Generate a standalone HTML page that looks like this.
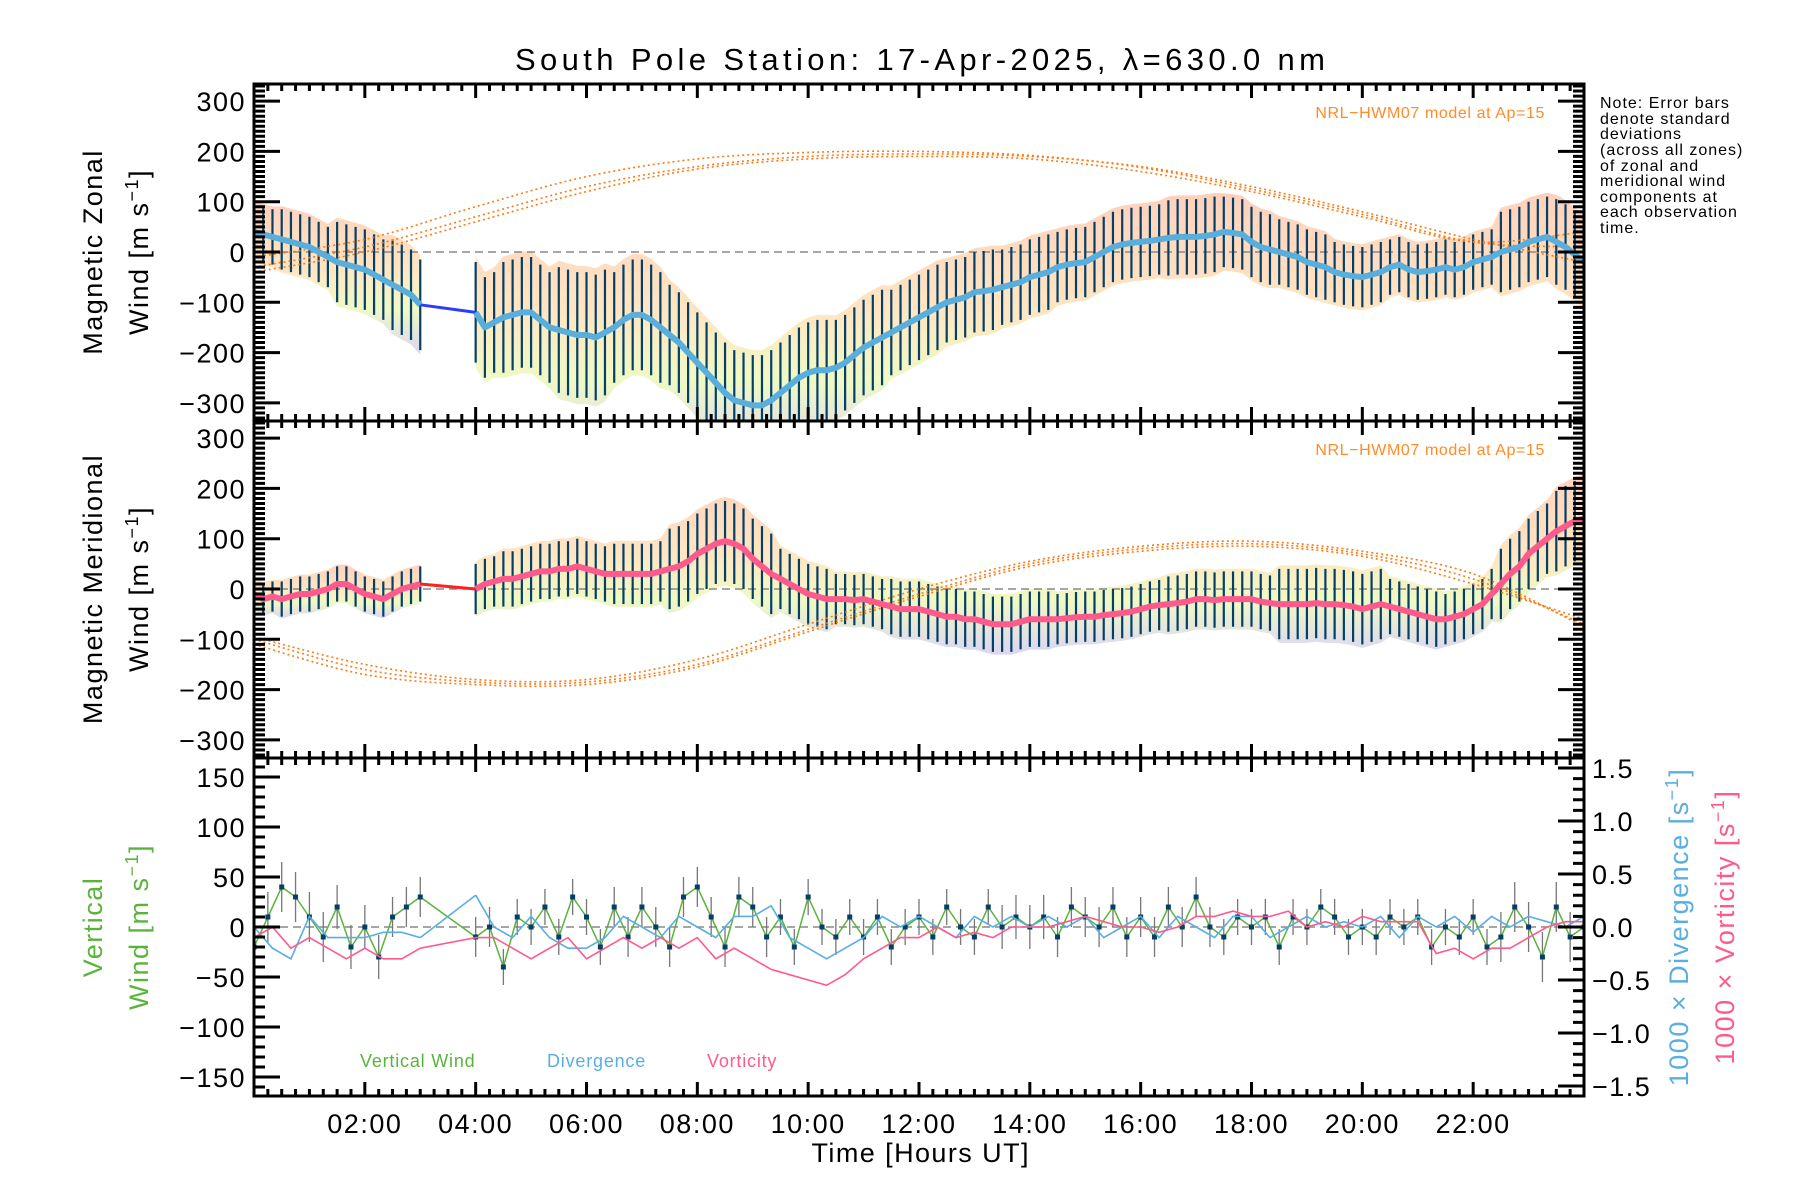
<!DOCTYPE html>
<html><head><meta charset="utf-8"><style>
html,body{margin:0;padding:0;background:#fff}
svg{display:block;font-family:"Liberation Sans","DejaVu Sans",sans-serif}
</style></head><body>
<svg id="chart" width="1800" height="1200" viewBox="0 0 1800 1200" xmlns="http://www.w3.org/2000/svg">
<defs>
<linearGradient id="cloud" x1="0" y1="0" x2="0" y2="1">
<stop offset="0" stop-color="#ffc8b0" stop-opacity="0.85"/>
<stop offset="0.45" stop-color="#ffe0b4" stop-opacity="0.8"/>
<stop offset="0.7" stop-color="#eaf7b0" stop-opacity="0.75"/>
<stop offset="1" stop-color="#cfc8f0" stop-opacity="0.75"/>
</linearGradient>
</defs>
<text x="920" y="70" font-size="31" text-anchor="middle" textLength="810" lengthAdjust="spacing">South Pole Station: 17-Apr-2025, λ=630.0 nm</text>
<g id="g1"></g>
<g id="g2"></g>
<g id="g3"></g>
<g id="axes"></g>
<text transform="translate(102,252) rotate(-90)" font-size="27" letter-spacing="1.5" text-anchor="middle">Magnetic Zonal</text>
<text transform="translate(148,252) rotate(-90)" font-size="27" letter-spacing="1.5" text-anchor="middle">Wind [m s<tspan baseline-shift="super" font-size="18">−1</tspan>]</text>
<text transform="translate(102,589) rotate(-90)" font-size="27" letter-spacing="1.5" text-anchor="middle">Magnetic Meridional</text>
<text transform="translate(148,589) rotate(-90)" font-size="27" letter-spacing="1.5" text-anchor="middle">Wind [m s<tspan baseline-shift="super" font-size="18">−1</tspan>]</text>
<text transform="translate(102,927) rotate(-90)" font-size="27" letter-spacing="1.5" text-anchor="middle" fill="#5ab43c">Vertical</text>
<text transform="translate(148,927) rotate(-90)" font-size="27" letter-spacing="1.5" text-anchor="middle" fill="#5ab43c">Wind [m s<tspan baseline-shift="super" font-size="18">−1</tspan>]</text>
<text transform="translate(1688,927) rotate(-90)" font-size="27" letter-spacing="1.5" text-anchor="middle" fill="#5aaee0">1000 × Divergence [s<tspan baseline-shift="super" font-size="18">−1</tspan>]</text>
<text transform="translate(1734,927) rotate(-90)" font-size="27" letter-spacing="1.5" text-anchor="middle" fill="#ff5a8c">1000 × Vorticity [s<tspan baseline-shift="super" font-size="18">−1</tspan>]</text>
<text x="920" y="1162" font-size="27" text-anchor="middle" textLength="217" lengthAdjust="spacing">Time [Hours UT]</text>
<text x="1545" y="118" font-size="16" letter-spacing="0.6" text-anchor="end" fill="#ff8c28">NRL−HWM07 model at Ap=15</text>
<text x="1545" y="455" font-size="16" letter-spacing="0.6" text-anchor="end" fill="#ff8c28">NRL−HWM07 model at Ap=15</text>
<text x="360" y="1067" font-size="18" letter-spacing="0.8" fill="#5ab43c">Vertical Wind</text>
<text x="547" y="1067" font-size="18" letter-spacing="0.8" fill="#5aaee0">Divergence</text>
<text x="707" y="1067" font-size="18" letter-spacing="0.8" fill="#ff5a8c">Vorticity</text>
<g font-size="16" letter-spacing="1">
<text x="1600" y="108">Note: Error bars</text>
<text x="1600" y="124">denote standard</text>
<text x="1600" y="139">deviations</text>
<text x="1600" y="155">(across all zones)</text>
<text x="1600" y="171">of zonal and</text>
<text x="1600" y="186">meridional wind</text>
<text x="1600" y="202">components at</text>
<text x="1600" y="217">each observation</text>
<text x="1600" y="233">time.</text>
</g>
</svg>
<script>
// ---- data (10-minute steps) ----
const zonalMean = [40,35,30,25,20,15, 10,0,-10,-20,-25,-30, -35,-45,-55,-65,-75,-85, -105,null,null,null,null,null,
 -120,-150,-140,-130,-125,-120, -120,-135,-150,-155,-160,-165, -165,-170,-160,-150,-135,-125, -125,-135,-150,-165,-180,-200,
 -220,-240,-260,-280,-295,-300, -305,-305,-295,-280,-265,-250, -240,-235,-235,-230,-220,-205, -190,-180,-170,-160,-150,-140,
 -130,-120,-110,-100,-95,-90, -80,-78,-75,-70,-65,-60, -50,-45,-40,-30,-25,-22, -20,-10,0,10,15,18,
 20,22,25,28,30,30, 30,32,35,40,38,35, 20,10,5,0,-5,-10, -20,-25,-30,-40,-45,-48,
 -50,-45,-40,-30,-25,-35, -40,-38,-35,-30,-35,-30, -20,-15,-10,0,5,10, 20,25,30,20,10,-5, -20];
const zonalSD = [55,60,80,90,100,110,125,110,100,100,100,95,85,80,75,70,70,75,70,65,60,55,55,80,85];
const meridMean = [-10,-20,-15,-20,-15,-10, -10,-5,0,10,10,0, -10,-15,-20,-10,0,5, 10,null,null,null,null,null,
 0,10,15,20,20,25, 30,35,35,40,40,45, 40,35,30,30,30,30, 30,30,35,40,45,55,
 70,80,90,95,90,80, 60,45,30,20,10,0, -10,-15,-20,-20,-20,-22, -20,-25,-30,-35,-40,-40,
 -40,-45,-50,-55,-55,-60, -60,-65,-70,-70,-70,-65, -60,-60,-60,-60,-58,-56, -55,-55,-52,-50,-48,-45,
 -40,-35,-32,-30,-28,-25, -20,-20,-22,-20,-20,-20, -20,-25,-28,-30,-30,-30, -30,-28,-30,-30,-32,-35,
 -40,-35,-30,-35,-40,-45, -50,-55,-60,-60,-55,-50, -40,-30,-10,10,30,45, 70,85,100,115,125,135, 140];
const meridSD = [30,35,35,35,50,55,55,60,80,80,60,50,55,55,55,50,50,55,55,70,70,55,50,70,80];
// model curves, 2-hour steps
const modelHours = [0,2,4,6,8,10,12,14,16,18,20,22,24];
const zonalModel1 = [-30,10,70,130,170,190,195,190,170,130,80,25,-20];
const zonalModel2 = [-10,25,90,150,185,198,200,192,168,125,75,20,10];
const zonalModel3 = [-40,0,60,120,165,185,190,185,160,120,70,20,40];
const meridModel1 = [-100,-160,-185,-185,-150,-80,-10,50,80,90,70,20,-70];
const meridModel2 = [-110,-170,-190,-190,-155,-85,-15,45,75,85,65,10,-60];
const meridModel3 = [-95,-150,-180,-180,-140,-70,0,55,85,95,75,30,-75];
// vertical wind, 15-minute steps
const vertWind = [-20,10,40,30, 10,-10,20,-20, 0,-30,10,20, 30,null,null,null, -10,0,-40,10, 0,20,-10,30,
 10,-20,20,-10, 20,0,-20,30, 40,10,-20,30, 20,-10,10,-20, 30,0,-10,10, -10,10,-20,0,
 10,-10,20,0, -10,20,0,10, 0,10,-10,20, 10,0,20,-10, 10,-10,20,0, 30,0,-10,10,
 0,10,-20,10, 0,20,10,-10, 0,-10,10,0, 10,-20,0,-10, 10,-20,-10,20, 0,-30,20,-10, 0];
const vertSD = [25,25,22,20,20,18,18,20,20,20,18,18,18,18,22,20,20,20,18,18,18,18,18,25,25];
// divergence & vorticity (x1000), 20-minute steps
const divergence = [0.0,-0.2,-0.3, 0.1,-0.1,-0.1, -0.1,-0.05,-0.05, -0.1,null,null, 0.3,0.0,-0.1, 0.1,-0.1,-0.2,
 -0.2,-0.1,0.1, 0.0,-0.1,0.1, 0.0,-0.1,0.1, 0.1,0.2,-0.1, -0.2,-0.3,-0.2, -0.1,0.1,0.0,
 0.1,0.0,-0.1, 0.1,0.0,0.1, 0.0,0.1,0.0, 0.1,-0.1,0.0, 0.1,-0.1,0.1, 0.0,-0.1,0.1,
 0.1,-0.1,0.0, 0.1,0.0,0.05, 0.0,0.1,-0.1, 0.1,0.0,0.1, -0.05,0.1,0.0, 0.1,0.05,0.0, 0.1];
const vorticity = [-0.1,0.0,-0.2, -0.1,-0.2,-0.3, -0.2,-0.3,-0.3, -0.2,null,null, -0.1,-0.1,-0.2, -0.3,-0.2,-0.1,
 -0.3,-0.2,-0.1, -0.2,-0.1,-0.2, -0.1,-0.3,-0.2, -0.3,-0.4,-0.45, -0.5,-0.55,-0.45, -0.3,-0.2,-0.1,
 -0.1,0.0,-0.1, -0.05,-0.1,0.0, 0.0,0.0,0.05, 0.1,0.05,0.0, 0.0,-0.05,0.0, 0.1,0.1,0.15,
 0.1,0.1,0.15, 0.0,0.05,0.0, 0.1,0.05,0.05, 0.05,-0.25,-0.2, -0.3,-0.2,-0.2, -0.1,0.0,0.05, 0.05];
const xTickLabels = ["02:00","04:00","06:00","08:00","10:00","12:00","14:00","16:00","18:00","20:00","22:00"];
const windTicks = [-300,-200,-100,0,100,200,300];
const vertTicks = [-150,-100,-50,0,50,100,150];
const rightTicks = [-1.5,-1.0,-0.5,0.0,0.5,1.0,1.5];

// ---- geometry ----
const NS="http://www.w3.org/2000/svg";
const L=254,R=1584;
const P=[{t:84,b:421,y0:252},{t:421,b:758,y0:589},{t:758,b:1096,y0:927}];
const WS=0.503, VS=1.0, RS=106;
const X=h=>L+h*(R-L)/24;
const Y1=v=>P[0].y0-v*WS, Y2=v=>P[1].y0-v*WS, Y3=v=>P[2].y0-v*VS, Y3r=v=>P[2].y0-v*RS;
function mk(tag,attrs,parent){const e=document.createElementNS(NS,tag);for(const k in attrs)e.setAttribute(k,attrs[k]);parent.appendChild(e);return e;}
const g1=document.getElementById('g1'),g2=document.getElementById('g2'),g3=document.getElementById('g3'),ax=document.getElementById('axes');
function clip(id,p){const cp=mk('clipPath',{id:id},document.querySelector('defs'));mk('rect',{x:L,y:p.t,width:R-L,height:p.b-p.t},cp);}
clip('c1',P[0]);clip('c2',P[1]);clip('c3',P[2]);
g1.setAttribute('clip-path','url(#c1)');g2.setAttribute('clip-path','url(#c2)');g3.setAttribute('clip-path','url(#c3)');

function linePath(arr,step,Yf){let d='',pen=false;arr.forEach((v,i)=>{if(v===null){pen=false;return;}d+=(pen?'L':'M')+X(i*step).toFixed(1)+' '+Yf(v).toFixed(1)+' ';pen=true;});return d;}
function bridgePath(arr,step,Yf){let last=-1,d='';arr.forEach((v,i)=>{if(v===null)return;if(last>=0&&i-last>1)d+='M'+X(last*step)+' '+Yf(arr[last])+' L'+X(i*step)+' '+Yf(v)+' ';last=i;});return d;}
function smooth(xs,ys,Yf){const pts=xs.map((h,i)=>[X(h),Yf(ys[i])]);let d='M'+pts[0][0]+' '+pts[0][1];for(let i=0;i<pts.length-1;i++){const p0=pts[Math.max(0,i-1)],p1=pts[i],p2=pts[i+1],p3=pts[Math.min(pts.length-1,i+2)];d+=' C'+(p1[0]+(p2[0]-p0[0])/6)+' '+(p1[1]+(p2[1]-p0[1])/6)+' '+(p2[0]-(p3[0]-p1[0])/6)+' '+(p2[1]-(p3[1]-p1[1])/6)+' '+p2[0]+' '+p2[1];}return d;}

function windPanel(g,mean,sd,models,Yf,lineCol,bridgeCol,name){
  const step=1/6;
  let seg=[];
  const segs=[];mean.forEach((v,i)=>{if(v===null){if(seg.length)segs.push(seg);seg=[];}else seg.push(i);});if(seg.length)segs.push(seg);
  segs.forEach(s=>{let d='';s.forEach((i,k)=>{const h=i*step,e=sd[Math.round(h)]*1.1;d+=(k?'L':'M')+X(h)+' '+Yf(mean[i]+e)+' ';});
    for(let k=s.length-1;k>=0;k--){const i=s[k],h=i*step,e=sd[Math.round(h)]*1.1;d+='L'+X(h)+' '+Yf(mean[i]-e)+' ';}
    const band=mk('path',{d:d+'Z',fill:'url(#cloud)'},g);
    
    });
  const z=mk('line',{x1:L,x2:R,y1:Yf(0),y2:Yf(0),stroke:'#888','stroke-width':1.5,'stroke-dasharray':'8 5'},g);
  
  
  mean.forEach((v,i)=>{if(v===null)return;const h=i*step,e=sd[Math.round(h)];
    const b=mk('line',{x1:X(h),x2:X(h),y1:Yf(v-e),y2:Yf(v+e),stroke:'#063f66','stroke-width':2.2},g);
    
    });
  models.forEach((m,k)=>{const c=mk('path',{d:smooth(modelHours,m,Yf),fill:'none',stroke:'#ff7a10','stroke-width':1.6,'stroke-dasharray':'2 3'},g);
    
    });
  const br=mk('path',{d:bridgePath(mean,step,Yf),fill:'none',stroke:bridgeCol,'stroke-width':3},g);
  
  
  const ml=mk('path',{d:linePath(mean,step,Yf),fill:'none',stroke:lineCol,'stroke-width':6,'stroke-linejoin':'round'},g);
  
  
}
windPanel(g1,zonalMean,zonalSD,[zonalModel1,zonalModel2,zonalModel3],Y1,'#5aaedc','#2a3cff','zonal');
windPanel(g2,meridMean,meridSD,[meridModel1,meridModel2,meridModel3],Y2,'#ff5a8c','#ff2020','meridional');

const z3=mk('line',{x1:L,x2:R,y1:Y3(0),y2:Y3(0),stroke:'#888','stroke-width':1.5,'stroke-dasharray':'8 5'},g3);


vertWind.forEach((v,i)=>{if(v===null)return;const h=i/4,e=vertSD[Math.round(h)];
  const b=mk('line',{x1:X(h),x2:X(h),y1:Y3(v-e),y2:Y3(v+e),stroke:'#777','stroke-width':1.3},g3);
  
  });
const vl=mk('path',{d:linePath(vertWind,0.25,Y3)+bridgePath(vertWind,0.25,Y3),fill:'none',stroke:'#5ab43c','stroke-width':1.5},g3);


vertWind.forEach((v,i)=>{if(v===null)return;
  const p=mk('rect',{x:X(i/4)-2.5,y:Y3(v)-2.5,width:5,height:5,fill:'#063f66'},g3);
  
  });
const dl=mk('path',{d:linePath(divergence,1/3,Y3r)+bridgePath(divergence,1/3,Y3r),fill:'none',stroke:'#5aaee0','stroke-width':1.6},g3);


const vo=mk('path',{d:linePath(vorticity,1/3,Y3r)+bridgePath(vorticity,1/3,Y3r),fill:'none',stroke:'#ff5a8c','stroke-width':1.6},g3);



P.forEach((p,k)=>{const r=mk('rect',{x:L,y:p.t,width:R-L,height:p.b-p.t,fill:'none',stroke:'#000','stroke-width':3},ax);
  
  });
let td='';
P.forEach(p=>{for(let m=0;m<=24*4;m++){const x=X(m/4),len=(m%8===0)?14:7;if(m%8===0&&(m===0||m===96))continue;td+=`M${x} ${p.t}v${len}M${x} ${p.b}v${-len}`;}});
[0,1].forEach(k=>{const Yf=k?Y2:Y1,p=P[k];for(let v=-330;v<=330;v+=10){const y=Yf(v);if(y<p.t+1||y>p.b-1)continue;const len=(v%100===0)?26:11;td+=`M${L} ${y}h${len}M${R} ${y}h${-len}`;}});
for(let v=-160;v<=160;v+=10){const y=Y3(v);const len=(v%50===0)?26:11;td+=`M${L} ${y}h${len}`;}
for(let v=-15;v<=15;v+=1){const y=Y3r(v/10);const len=(v%5===0)?26:11;td+=`M${R} ${y}h${-len}`;}
const tk=mk('path',{d:td,stroke:'#000','stroke-width':3,fill:'none'},ax);


function lab(x,y,t,anchor,name){const e=mk('text',{x:x,y:y,'font-size':27,'letter-spacing':1.5,'text-anchor':anchor},ax);e.textContent=t;
  
  }
const fmt=v=>(v<0?'−':'')+Math.abs(v);
windTicks.forEach(v=>{lab(L-8,Y1(v)+10,fmt(v),'end','zonal-y-tick');lab(L-8,Y2(v)+10,fmt(v),'end','meridional-y-tick');});
vertTicks.forEach(v=>lab(L-8,Y3(v)+10,fmt(v),'end','vertical-y-tick'));
rightTicks.forEach(v=>lab(R+8,Y3r(v)+10,(v<0?'−':'')+Math.abs(v).toFixed(1),'start','right-y-tick'));
xTickLabels.forEach((t,i)=>lab(X(2*(i+1)),1133,t,'middle','x-tick-label'));
</script>
</body></html>
